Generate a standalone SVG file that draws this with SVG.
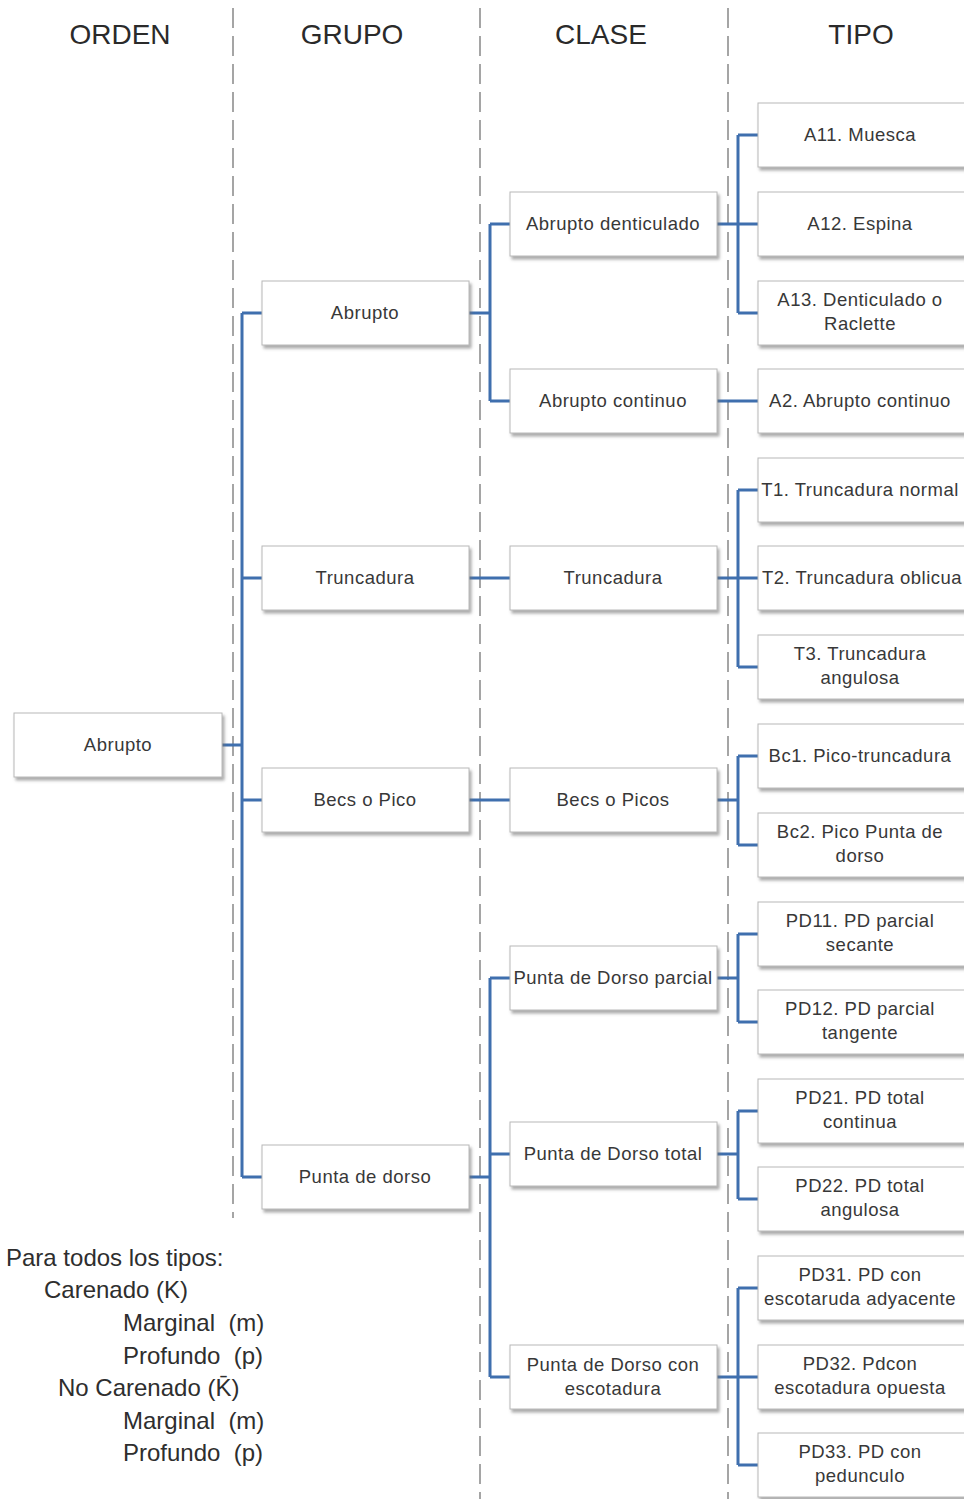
<svg xmlns="http://www.w3.org/2000/svg" width="964" height="1499" viewBox="0 0 964 1499">
<defs>
<filter id="sh" x="-10%" y="-10%" width="130%" height="140%">
<feDropShadow dx="2" dy="3" stdDeviation="1.5" flood-color="#707070" flood-opacity="0.6"/>
</filter>
</defs>
<style>
.b{fill:#fff;stroke:#b8b8b8;stroke-width:1;filter:url(#sh)}
.t{font-family:"Liberation Sans",Arial,sans-serif;font-size:18.5px;fill:#383838;text-anchor:middle;letter-spacing:0.5px}
.h{font-family:"Liberation Sans",Arial,sans-serif;font-size:28px;fill:#2a2a2a;text-anchor:middle}
.n{font-family:"Liberation Sans",Arial,sans-serif;font-size:24px;fill:#2e2e2e}
.d{stroke:#6a6a6a;stroke-width:1.2;stroke-dasharray:20 8;fill:none}
.c{stroke:#3f6fae;stroke-width:3;fill:none}
</style>
<rect width="964" height="1499" fill="#fff"/>
<g id="guides">
<line class="d" x1="233" y1="8" x2="233" y2="1218"/>
<line class="d" x1="480" y1="8" x2="480" y2="1499"/>
<line class="d" x1="728" y1="8" x2="728" y2="1499"/>
</g>
<g id="headers">
<text class="h" x="120" y="44">ORDEN</text>
<text class="h" x="352" y="44">GRUPO</text>
<text class="h" x="601" y="44">CLASE</text>
<text class="h" x="861" y="44">TIPO</text>
</g>
<g id="connectors">
<path class="c" d="M222 745H242M242 313V1177M242 313H262M242 578H262M242 800H262M242 1177H262"/>
<path class="c" d="M469 313H490M490 224V401M490 224H510M490 401H510"/>
<path class="c" d="M469 578H510M469 800H510"/>
<path class="c" d="M469 1177H490M490 978V1377M490 978H510M490 1154H510M490 1377H510"/>
<path class="c" d="M717 224H738M738 135V313M738 135H758M738 224H758M738 313H758"/>
<path class="c" d="M717 401H758"/>
<path class="c" d="M717 578H738M738 490V667M738 490H758M738 578H758M738 667H758"/>
<path class="c" d="M717 800H738M738 756V845M738 756H758M738 845H758"/>
<path class="c" d="M717 978H738M738 934V1022M738 934H758M738 1022H758"/>
<path class="c" d="M717 1154H738M738 1111V1199M738 1111H758M738 1199H758"/>
<path class="c" d="M717 1377H738M738 1288V1465M738 1288H758M738 1377H758M738 1465H758"/>
</g>
<g id="orden-abrupto"><rect class="b" x="14" y="713" width="208" height="64"/><text class="t" x="118" y="751">Abrupto</text></g>
<g id="grupo-abrupto"><rect class="b" x="262" y="281" width="207" height="64"/><text class="t" x="365" y="319">Abrupto</text></g>
<g id="grupo-truncadura"><rect class="b" x="262" y="546" width="207" height="64"/><text class="t" x="365" y="584">Truncadura</text></g>
<g id="grupo-becs"><rect class="b" x="262" y="768" width="207" height="64"/><text class="t" x="365" y="806">Becs o Pico</text></g>
<g id="grupo-pd"><rect class="b" x="262" y="1145" width="207" height="64"/><text class="t" x="365" y="1183">Punta de dorso</text></g>
<g id="clase-ad"><rect class="b" x="510" y="192" width="207" height="64"/><text class="t" x="613" y="230">Abrupto denticulado</text></g>
<g id="clase-ac"><rect class="b" x="510" y="369" width="207" height="64"/><text class="t" x="613" y="407">Abrupto continuo</text></g>
<g id="clase-trunc"><rect class="b" x="510" y="546" width="207" height="64"/><text class="t" x="613" y="584">Truncadura</text></g>
<g id="clase-becs"><rect class="b" x="510" y="768" width="207" height="64"/><text class="t" x="613" y="806">Becs o Picos</text></g>
<g id="clase-pdp"><rect class="b" x="510" y="946" width="207" height="64"/><text class="t" x="613" y="984">Punta de Dorso parcial</text></g>
<g id="clase-pdt"><rect class="b" x="510" y="1122" width="207" height="64"/><text class="t" x="613" y="1160">Punta de Dorso total</text></g>
<g id="clase-pde"><rect class="b" x="510" y="1345" width="207" height="64"/><text class="t" x="613" y="1371">Punta de Dorso con</text><text class="t" x="613" y="1395">escotadura</text></g>
<g id="tipo-a11"><rect class="b" x="758" y="103" width="210" height="64"/><text class="t" x="860" y="141">A11. Muesca</text></g>
<g id="tipo-a12"><rect class="b" x="758" y="192" width="210" height="64"/><text class="t" x="860" y="230">A12. Espina</text></g>
<g id="tipo-a13"><rect class="b" x="758" y="281" width="210" height="64"/><text class="t" x="860" y="306">A13. Denticulado o</text><text class="t" x="860" y="330">Raclette</text></g>
<g id="tipo-a2"><rect class="b" x="758" y="369" width="210" height="64"/><text class="t" x="860" y="407">A2. Abrupto continuo</text></g>
<g id="tipo-t1"><rect class="b" x="758" y="458" width="210" height="64"/><text class="t" x="860" y="496">T1. Truncadura normal</text></g>
<g id="tipo-t2"><rect class="b" x="758" y="546" width="210" height="64"/><text class="t" x="862" y="584">T2. Truncadura oblicua</text></g>
<g id="tipo-t3"><rect class="b" x="758" y="635" width="210" height="64"/><text class="t" x="860" y="660">T3. Truncadura</text><text class="t" x="860" y="684">angulosa</text></g>
<g id="tipo-bc1"><rect class="b" x="758" y="724" width="210" height="64"/><text class="t" x="860" y="762">Bc1. Pico-truncadura</text></g>
<g id="tipo-bc2"><rect class="b" x="758" y="813" width="210" height="64"/><text class="t" x="860" y="838">Bc2. Pico Punta de</text><text class="t" x="860" y="862">dorso</text></g>
<g id="tipo-pd11"><rect class="b" x="758" y="902" width="210" height="64"/><text class="t" x="860" y="927">PD11. PD parcial</text><text class="t" x="860" y="951">secante</text></g>
<g id="tipo-pd12"><rect class="b" x="758" y="990" width="210" height="64"/><text class="t" x="860" y="1015">PD12. PD parcial</text><text class="t" x="860" y="1039">tangente</text></g>
<g id="tipo-pd21"><rect class="b" x="758" y="1079" width="210" height="64"/><text class="t" x="860" y="1104">PD21. PD total</text><text class="t" x="860" y="1128">continua</text></g>
<g id="tipo-pd22"><rect class="b" x="758" y="1167" width="210" height="64"/><text class="t" x="860" y="1192">PD22. PD total</text><text class="t" x="860" y="1216">angulosa</text></g>
<g id="tipo-pd31"><rect class="b" x="758" y="1256" width="210" height="64"/><text class="t" x="860" y="1281">PD31. PD con</text><text class="t" x="860" y="1305">escotaruda adyacente</text></g>
<g id="tipo-pd32"><rect class="b" x="758" y="1345" width="210" height="64"/><text class="t" x="860" y="1370">PD32. Pdcon</text><text class="t" x="860" y="1394">escotadura opuesta</text></g>
<g id="tipo-pd33"><rect class="b" x="758" y="1433" width="210" height="64"/><text class="t" x="860" y="1458">PD33. PD con</text><text class="t" x="860" y="1482">pedunculo</text></g>
<g id="nota">
<text class="n" x="6" y="1266">Para todos los tipos:</text>
<text class="n" x="44" y="1298">Carenado (K)</text>
<text class="n" x="123" y="1331" xml:space="preserve">Marginal  (m)</text>
<text class="n" x="123" y="1364" xml:space="preserve">Profundo  (p)</text>
<text class="n" x="58" y="1396">No Carenado (K̄)</text>
<text class="n" x="123" y="1429" xml:space="preserve">Marginal  (m)</text>
<text class="n" x="123" y="1461" xml:space="preserve">Profundo  (p)</text>
</g>
</svg>
